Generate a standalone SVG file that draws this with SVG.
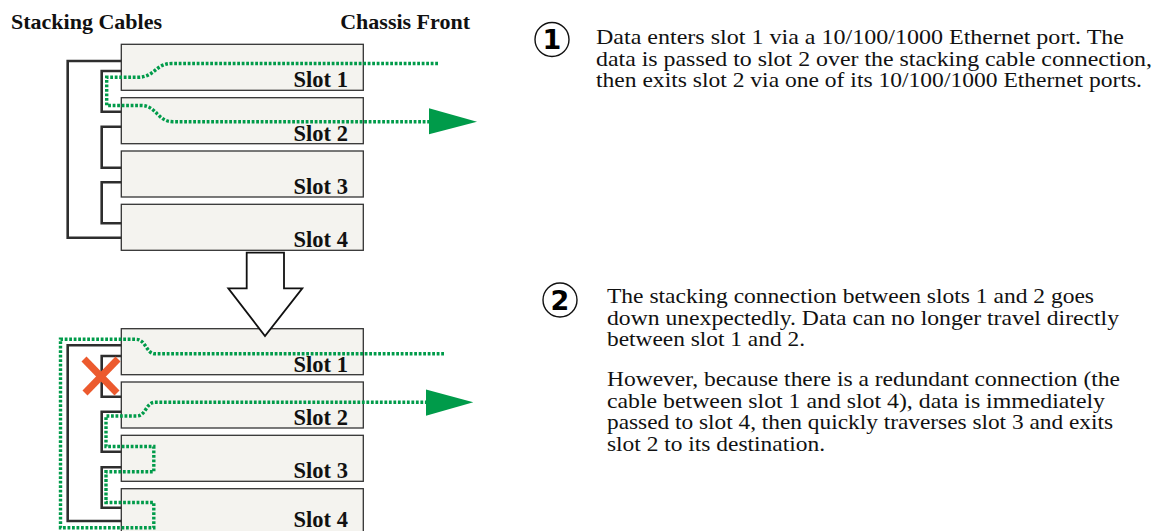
<svg xmlns="http://www.w3.org/2000/svg" width="1164" height="531" viewBox="0 0 1164 531">
<style>
.slot{fill:#f4f3ef;stroke:#333;stroke-width:1.3}
.lbl{font-family:"Liberation Serif",serif;font-weight:bold;font-size:22.5px;fill:#111;text-anchor:end}
.hdr{font-family:"Liberation Serif",serif;font-weight:bold;font-size:22px;fill:#111}
.cable{fill:none;stroke:#2e2e2e;stroke-width:2.6}
.flow{fill:none;stroke:#009b4a;stroke-width:3.4;stroke-dasharray:2.8 1.7}
.head{fill:#009b4a}
.body{font-family:"Liberation Serif",serif;font-size:21.5px;fill:#111}
.num{font-family:"DejaVu Sans",sans-serif;font-weight:bold;font-size:27px;fill:#000;text-anchor:middle}
.circ{fill:none;stroke:#111;stroke-width:1.4}
</style>
<rect width="1164" height="531" fill="#fff"/>
<text class="hdr" x="11" y="29.3">Stacking Cables</text>
<text class="hdr" x="470" y="29.3" text-anchor="end">Chassis Front</text>
<g id="top-slot1"><rect class="slot" x="121.3" y="44.3" width="242" height="46"/><text class="lbl" x="348" y="87.3">Slot 1</text></g>
<g id="top-slot2"><rect class="slot" x="121.3" y="97.7" width="242" height="46"/><text class="lbl" x="348" y="140.7">Slot 2</text></g>
<g id="top-slot3"><rect class="slot" x="121.3" y="151" width="242" height="46"/><text class="lbl" x="348" y="194">Slot 3</text></g>
<g id="top-slot4"><rect class="slot" x="121.3" y="204.3" width="242" height="46"/><text class="lbl" x="348" y="247.3">Slot 4</text></g>
<g id="bot-slot1"><rect class="slot" x="121.3" y="328.7" width="242" height="46"/><text class="lbl" x="348" y="371.7">Slot 1</text></g>
<g id="bot-slot2"><rect class="slot" x="121.3" y="382" width="242" height="46"/><text class="lbl" x="348" y="425">Slot 2</text></g>
<g id="bot-slot3"><rect class="slot" x="121.3" y="435.3" width="242" height="46"/><text class="lbl" x="348" y="478.3">Slot 3</text></g>
<g id="bot-slot4"><rect class="slot" x="121.3" y="488.7" width="242" height="46"/><text class="lbl" x="348" y="527">Slot 4</text></g>
<g id="connectors">
<path class="cable" d="M121.3,61 H67.7 V237.7 H121.3"/>
<path class="cable" d="M121.3,71 H101.7 V111.7 H121.3"/>
<path class="cable" d="M121.3,126.7 H101.7 V167.7 H121.3"/>
<path class="cable" d="M121.3,182.3 H101.7 V223.3 H121.3"/>
<path class="cable" d="M121.3,345.3 H67.7 V521 H121.3"/>
<path class="cable" d="M121.3,356 H101.7 V396.7 H121.3"/>
<path class="cable" d="M121.3,411.7 H101.7 V451.7 H121.3"/>
<path class="cable" d="M121.3,467.3 H101.7 V507.7 H121.3"/>
<path class="flow" d="M438,63.5 H172 C155,63.5 155,77.3 138,77.3 H106.7 V105.5 H141 C157,105.5 157,121.7 173,121.7 H430"/>
<polygon class="head" points="429,108.3 477,121.7 429,134.3"/>
<path class="flow" d="M444,353.8 H155 C146,353.8 146,339.3 136,339.3 H60.5 V527.8 H153.8 V502.5 H106 V471.8 H153.8 V446.5 H106 V416 H136.7 C146,416 146,402.3 155,402.3 H427"/>
<polygon class="head" points="426,389.5 473.3,402.3 426,415.7"/>
<polygon points="246.7,252.7 284,252.7 284,288.3 302.3,288.3 265,336 228.3,288.3 246.7,288.3" fill="#fff" stroke="#111" stroke-width="1.8" stroke-linejoin="miter"/>
<g stroke="#ec5a2e" stroke-width="7">
<line x1="84" y1="359" x2="117" y2="393"/>
<line x1="118" y1="359" x2="85" y2="393"/>
</g>
</g>
<g id="note1">
<circle class="circ" cx="552" cy="39.5" r="17"/>
<text class="num" x="552" y="49">1</text>
<text class="body"><tspan x="596" y="44" textLength="528" lengthAdjust="spacingAndGlyphs">Data enters slot 1 via a 10/100/1000 Ethernet port. The</tspan><tspan x="596" y="65.5" textLength="556" lengthAdjust="spacingAndGlyphs">data is passed to slot 2 over the stacking cable connection,</tspan><tspan x="596" y="87" textLength="546" lengthAdjust="spacingAndGlyphs">then exits slot 2 via one of its 10/100/1000 Ethernet ports.</tspan></text>
</g>
<g id="note2">
<circle class="circ" cx="560" cy="300" r="17"/>
<text class="num" x="560" y="309.5">2</text>
<text class="body"><tspan x="607" y="303.3" textLength="487" lengthAdjust="spacingAndGlyphs">The stacking connection between slots 1 and 2 goes</tspan><tspan x="607" y="324.8" textLength="512" lengthAdjust="spacingAndGlyphs">down unexpectedly. Data can no longer travel directly</tspan><tspan x="607" y="346.3" textLength="198" lengthAdjust="spacingAndGlyphs">between slot 1 and 2.</tspan></text>
<text class="body"><tspan x="607" y="386" textLength="513" lengthAdjust="spacingAndGlyphs">However, because there is a redundant connection (the</tspan><tspan x="607" y="407.5" textLength="498" lengthAdjust="spacingAndGlyphs">cable between slot 1 and slot 4), data is immediately</tspan><tspan x="607" y="429" textLength="506" lengthAdjust="spacingAndGlyphs">passed to slot 4, then quickly traverses slot 3 and exits</tspan><tspan x="607" y="450.5" textLength="218" lengthAdjust="spacingAndGlyphs">slot 2 to its destination.</tspan></text>
</g>
</svg>
